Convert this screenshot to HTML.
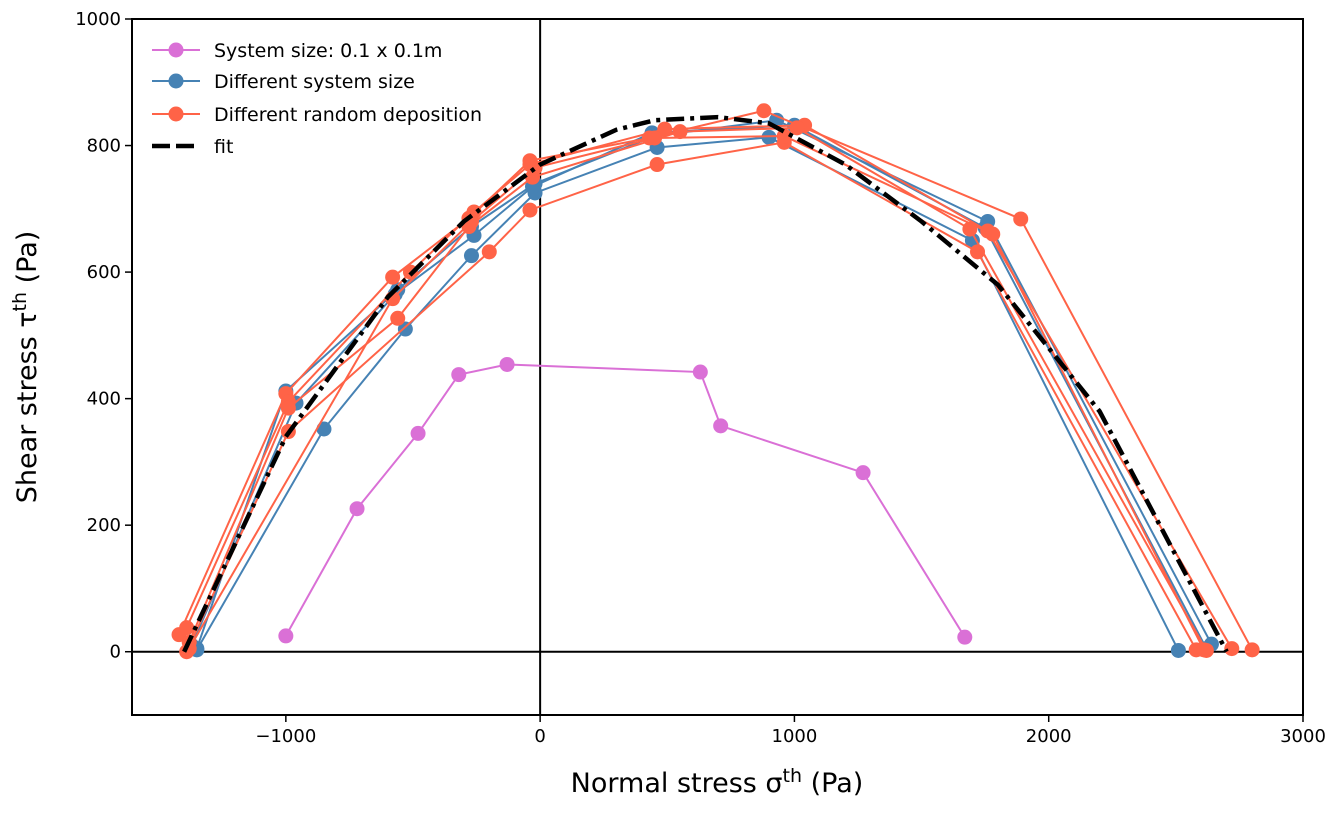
<!DOCTYPE html>
<html><head><meta charset="utf-8"><style>
body{margin:0;background:#fff}
svg{font-family:"DejaVu Sans","Liberation Sans",sans-serif}
</style></head><body>
<svg id="chart" width="1343" height="811" xmlns="http://www.w3.org/2000/svg"></svg>
<script>
const xTicks=[-1000,0,1000,2000,3000];
const yTicks=[0,200,400,600,800,1000];
const pinkX=[-1000,-720,-480,-320,-130,630,710,1270,1670];
const pinkY=[25,226,345,438,454,442,357,283,23];
const blue1X=[-1350,-1000,-560,-270,-20,450,930,1760,2640];
const blue1Y=[5,412,572,672,740,815,840,680,12];
const blue2X=[-1350,-850,-530,-270,-20,460,900,1700,2510];
const blue2Y=[3,352,510,626,725,797,813,650,2];
const blue3X=[-1370,-960,-570,-260,-30,440,1000,1750,2620];
const blue3Y=[10,393,565,658,735,820,832,670,5];
const or1X=[-1420,-1000,-580,-280,-40,430,880,1890,2800];
const or1Y=[27,408,592,685,776,812,855,684,3];
const or2X=[-1390,-990,-510,-260,-40,490,1040,1760,2720];
const or2Y=[38,395,600,695,770,826,832,665,5];
const or3X=[-1390,-990,-200,-40,460,960,1720,2580];
const or3Y=[0,348,632,698,770,805,632,3];
const or4X=[-1380,-990,-560,-280,-30,550,1010,1690,2620];
const or4Y=[15,385,527,672,750,822,828,668,2];
const or5X=[-1380,-580,-270,-20,450,960,1780,2610];
const or5Y=[5,558,680,765,812,815,660,3];
const fitX=[-1400,-1000,-600,-300,0,300,450,700,900,1200,1500,1800,2200,2700];
const fitY=[0,340,560,680,770,825,840,845,835,770,680,580,380,0];

const L=132,R=1303,T=19,B=715,XMIN=-1605,XMAX=3000,YMIN=-100,YMAX=1000;
const sx=v=>L+(v-XMIN)/(XMAX-XMIN)*(R-L);
const sy=v=>B-(v-YMIN)/(YMAX-YMIN)*(B-T);
const NS="http://www.w3.org/2000/svg";
const svg=document.getElementById('chart');
function mk(tag,attrs,parent){const e=document.createElementNS(NS,tag);for(const k in attrs)e.setAttribute(k,attrs[k]);(parent||svg).appendChild(e);return e;}

let zx=mk('line',{x1:sx(0),x2:sx(0),y1:T,y2:B,stroke:'#000','stroke-width':2});


let zy=mk('line',{x1:L,x2:R,y1:sy(0),y2:sy(0),stroke:'#000','stroke-width':2});



function series(xs,ys,color,name){
  const g=mk('g',{});
  
  
  mk('polyline',{points:xs.map((x,i)=>sx(x)+','+sy(ys[i])).join(' '),fill:'none',stroke:color,'stroke-width':2},g);
  xs.forEach((x,i)=>{const c=mk('circle',{cx:sx(x),cy:sy(ys[i]),r:7.5,fill:color},g);
    
    });
}
const BL='#4682b4',OR='#ff6347',PK='#da70d6';
series(pinkX,pinkY,PK,'series-small-system');
series(blue1X,blue1Y,BL,'series-size-1');
series(blue2X,blue2Y,BL,'series-size-2');
series(blue3X,blue3Y,BL,'series-size-3');
series(or1X,or1Y,OR,'series-deposition-1');
series(or2X,or2Y,OR,'series-deposition-2');
series(or3X,or3Y,OR,'series-deposition-3');
series(or4X,or4Y,OR,'series-deposition-4');
series(or5X,or5Y,OR,'series-deposition-5');
let fit=mk('polyline',{points:fitX.map((x,i)=>sx(x)+','+sy(fitY[i])).join(' '),fill:'none',stroke:'#000','stroke-width':4.5,'stroke-dasharray':'18,6,4,6'});



let fr=mk('rect',{x:L,y:T,width:R-L,height:B-T,fill:'none',stroke:'#000','stroke-width':2});


xTicks.forEach(t=>{const x=sx(t);mk('line',{x1:x,x2:x,y1:B,y2:B+7,stroke:'#000','stroke-width':1.5});
  const tx=mk('text',{x:x,y:B+27,'font-size':18,'text-anchor':'middle'});tx.textContent=(t<0?'\u2212'+(-t):t);
  
  });
yTicks.forEach(t=>{const y=sy(t);mk('line',{x1:L-7,x2:L,y1:y,y2:y,stroke:'#000','stroke-width':1.5});
  const tx=mk('text',{x:L-11,y:y+6,'font-size':18,'text-anchor':'end'});tx.textContent=t;
  
  });
</script>
<svg style="position:absolute;left:0;top:0" width="1343" height="811" xmlns="http://www.w3.org/2000/svg" font-family="DejaVu Sans, Liberation Sans, sans-serif">
<g>
 <g><line x1="152" x2="200" y1="50" y2="50" stroke="#da70d6" stroke-width="2"/><circle cx="176" cy="50" r="7.5" fill="#da70d6"/><text x="214" y="57" font-size="19">System size: 0.1 x 0.1m</text></g>
 <g><line x1="152" x2="200" y1="81" y2="81" stroke="#4682b4" stroke-width="2"/><circle cx="176" cy="81" r="7.5" fill="#4682b4"/><text x="214" y="88" font-size="19">Different system size</text></g>
 <g><line x1="152" x2="200" y1="114" y2="114" stroke="#ff6347" stroke-width="2"/><circle cx="176" cy="114" r="7.5" fill="#ff6347"/><text x="214" y="121" font-size="19">Different random deposition</text></g>
 <g><line x1="152" x2="200" y1="146" y2="146" stroke="#000" stroke-width="4.5" stroke-dasharray="18,6"/><text x="214" y="153" font-size="19">fit</text></g>
</g>
<text x="717" y="792" font-size="27" text-anchor="middle">Normal stress σ<tspan dy="-10" font-size="19">th</tspan><tspan dy="10"> (Pa)</tspan></text>
<text transform="translate(36,367) rotate(-90)" font-size="27" text-anchor="middle">Shear stress τ<tspan dy="-10" font-size="19">th</tspan><tspan dy="10"> (Pa)</tspan></text>
</svg>
</body></html>
